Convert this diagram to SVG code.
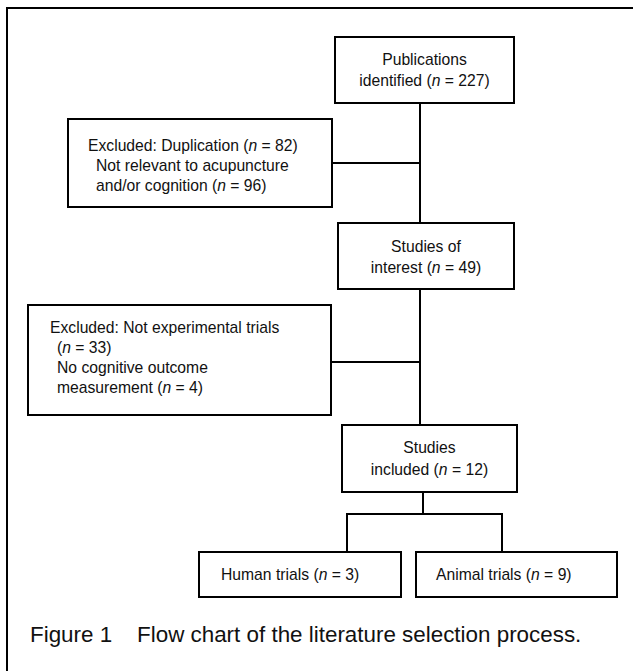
<svg xmlns="http://www.w3.org/2000/svg" width="633" height="671" viewBox="0 0 633 671">
<style>
.box{fill:#fff;stroke:#000;stroke-width:2}
.t{font-family:"Liberation Sans",Arial,sans-serif;font-size:15.7px;fill:#111}
.c{text-anchor:middle}
.cap{font-family:"Liberation Sans",Arial,sans-serif;font-size:22.4px;fill:#111}
.ln{fill:none;stroke:#000;stroke-width:2}
</style>
<rect width="633" height="671" fill="#fff"/>
<g id="frame">
<path class="ln" d="M7 671 V8 H633" stroke="#222"/>
</g>
<g id="connectors">
<path class="ln" d="M420 103 V223"/>
<path class="ln" d="M332 163 H420"/>
<path class="ln" d="M420 289 V425"/>
<path class="ln" d="M331 362 H420"/>
<path class="ln" d="M423 492 V514"/>
<path class="ln" d="M347 552 V514 H502 V552"/>
</g>
<g id="publications">
<rect class="box" x="335" y="37" width="179" height="66"/>
<text class="t c" x="424.5" y="65">Publications</text>
<text class="t c" x="424.5" y="86">identified (<tspan font-style="italic">n</tspan> = 227)</text>
</g>
<g id="excluded1">
<rect class="box" x="68" y="119" width="264" height="88"/>
<text class="t" x="88" y="151">Excluded: Duplication (<tspan font-style="italic">n</tspan> = 82)</text>
<text class="t" x="96" y="171">Not relevant to acupuncture</text>
<text class="t" x="96" y="191">and/or cognition (<tspan font-style="italic">n</tspan> = 96)</text>
</g>
<g id="interest">
<rect class="box" x="338" y="223" width="176" height="66"/>
<text class="t c" x="426" y="252">Studies of</text>
<text class="t c" x="426" y="273">interest (<tspan font-style="italic">n</tspan> = 49)</text>
</g>
<g id="excluded2">
<rect class="box" x="28" y="305" width="303" height="110"/>
<text class="t" x="50" y="333">Excluded: Not experimental trials</text>
<text class="t" x="57" y="353">(<tspan font-style="italic">n</tspan> = 33)</text>
<text class="t" x="57" y="373">No cognitive outcome</text>
<text class="t" x="57" y="393">measurement (<tspan font-style="italic">n</tspan> = 4)</text>
</g>
<g id="included">
<rect class="box" x="342" y="425" width="175" height="67"/>
<text class="t c" x="429.5" y="453">Studies</text>
<text class="t c" x="429.5" y="475">included (<tspan font-style="italic">n</tspan> = 12)</text>
</g>
<g id="human">
<rect class="box" x="199" y="552" width="202" height="45"/>
<text class="t" x="221" y="580">Human trials (<tspan font-style="italic">n</tspan> = 3)</text>
</g>
<g id="animal">
<rect class="box" x="416" y="552" width="201" height="45"/>
<text class="t" x="436" y="580">Animal trials (<tspan font-style="italic">n</tspan> = 9)</text>
</g>
<g id="caption">
<text class="cap" x="30" y="642" xml:space="preserve">Figure 1    Flow chart of the literature selection process.</text>
</g>
</svg>
